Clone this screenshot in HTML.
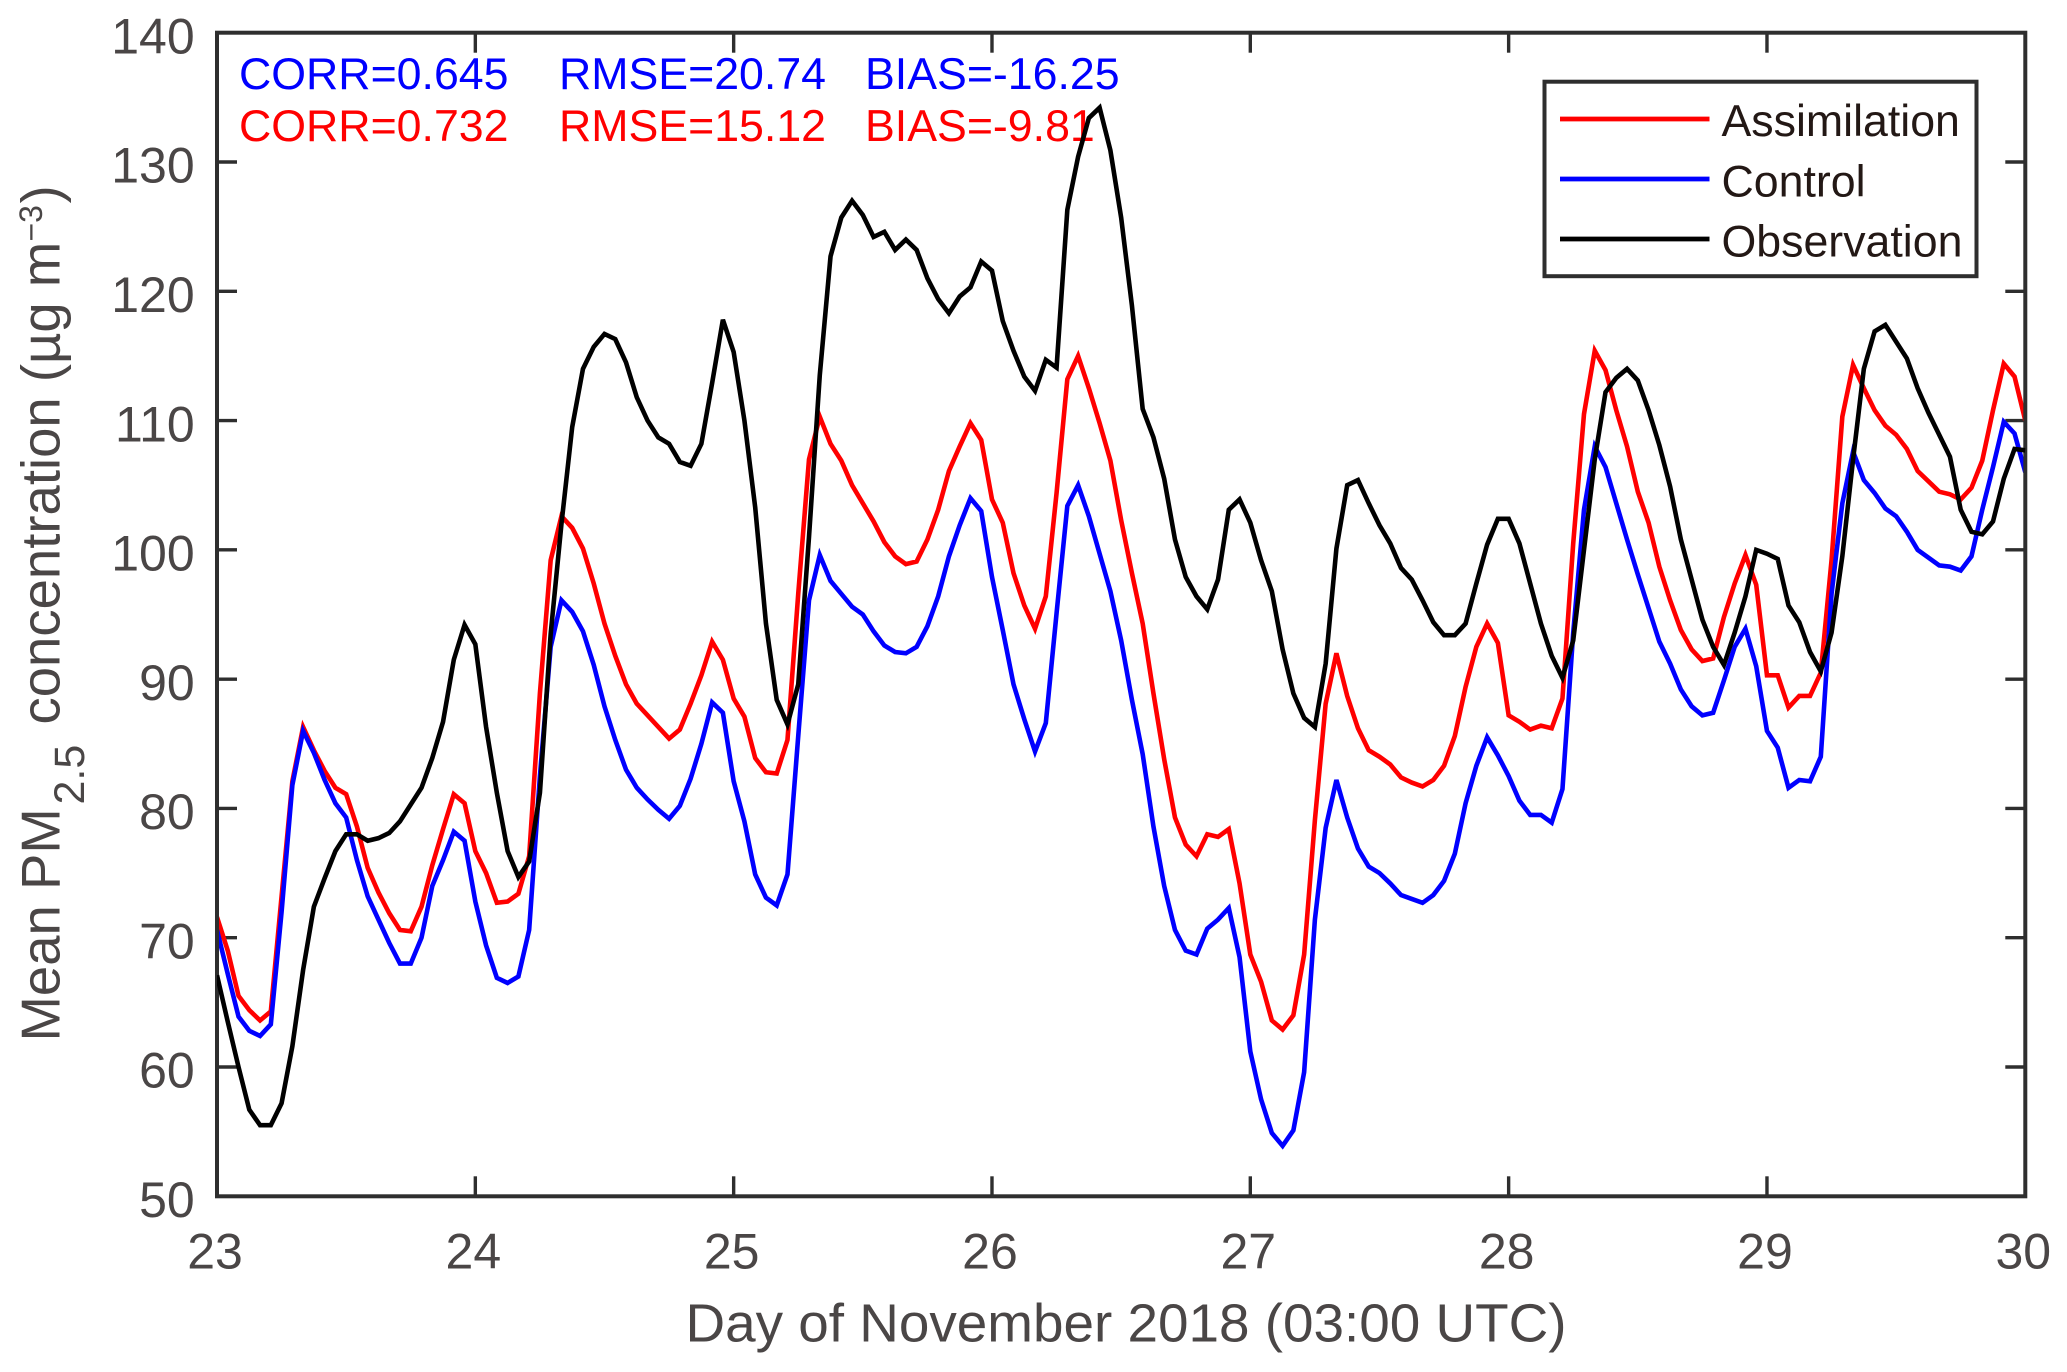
<!DOCTYPE html>
<html lang="en">
<head>
<meta charset="utf-8">
<title>Mean PM2.5 concentration chart</title>
<style>
html,body{margin:0;padding:0;background:#fff}
svg{display:block}
text{font-family:"Liberation Sans",Arial,sans-serif}
.tick-label{font-size:50px;fill:#4a4646}
.axis-title{font-size:54.5px;fill:#4a4646}
.stat{font-size:44.7px}
.legend-text{font-size:44.7px;fill:#231815}
</style>
</head>
<body>
<svg id="chart" width="2067" height="1372" viewBox="0 0 2067 1372" xmlns="http://www.w3.org/2000/svg">
  <rect x="0" y="0" width="2067" height="1372" fill="#fff"/>
  <defs><clipPath id="plot-clip"><rect x="217" y="32.7" width="1808.3" height="1163.6"/></clipPath></defs>
  <g id="ticks"></g>
  <g id="series" clip-path="url(#plot-clip)"></g>
  <rect x="217" y="32.7" width="1808.3" height="1163.6" fill="none" stroke="#2e2e2e" stroke-width="4"/>
  <g id="tick-labels"></g>

  <text class="axis-title" x="685.5" y="1341.5" style="font-size:53.5px" textLength="881" lengthAdjust="spacingAndGlyphs">Day of November 2018 (03:00 UTC)</text>

  <g transform="translate(59.5,1038.5) rotate(-90)">
    <text class="axis-title" x="-3" y="0">Mean PM</text>
    <text class="axis-title" x="234" y="24.5" style="font-size:43px">2.5</text>
    <text class="axis-title" x="314" y="0">concentration (µg m</text>
    <text class="axis-title" x="797" y="-17.5" style="font-size:32px">−3</text>
    <text class="axis-title" x="835" y="0">)</text>
  </g>

  <g fill="#0000ff">
    <text class="stat" x="239" y="89">CORR=0.645</text>
    <text class="stat" x="559" y="89">RMSE=20.74</text>
    <text class="stat" x="865" y="89">BIAS=-16.25</text>
  </g>
  <g fill="#ff0000">
    <text class="stat" x="239" y="141">CORR=0.732</text>
    <text class="stat" x="559" y="141">RMSE=15.12</text>
    <text class="stat" x="865" y="141">BIAS=-9.81</text>
  </g>

  <g id="observation-layer" clip-path="url(#plot-clip)"></g>

  <g>
    <rect x="1544.5" y="81.7" width="432" height="194.5" fill="#fff" stroke="#2e2e2e" stroke-width="4"/>
    <line x1="1560" x2="1709.5" y1="119" y2="119" stroke="#ff0000" stroke-width="4.8"/>
    <text class="legend-text" x="1721.5" y="136">Assimilation</text>
    <line x1="1560" x2="1709.5" y1="179" y2="179" stroke="#0000ff" stroke-width="4.8"/>
    <text class="legend-text" x="1721.5" y="196.5">Control</text>
    <line x1="1560" x2="1709.5" y1="239" y2="239" stroke="#000" stroke-width="4.8"/>
    <text class="legend-text" x="1721.5" y="256.5">Observation</text>
  </g>
</svg>
<script>
const dayTicks = [23, 24, 25, 26, 27, 28, 29, 30];
const valueTicks = [50, 60, 70, 80, 90, 100, 110, 120, 130, 140];
const assimilation = [
  71.6,69,65.5,64.4,63.6,64.3,73.2,82.1,86.3,84.5,82.9,81.6,81.1,78.6,75.4,73.5,71.9,70.6,70.5,72.4,75.6,78.4,81.1,80.4,
  76.7,75,72.7,72.8,73.4,76.3,88.9,99.2,102.6,101.7,100.1,97.4,94.3,91.8,89.6,88.1,87.2,86.3,85.4,86.1,88.1,90.3,92.9,91.5,
  88.5,87.1,83.9,82.8,82.7,85.3,96.6,107,110.3,108.2,106.9,105,103.6,102.2,100.6,99.5,98.9,99.1,100.8,103.1,106.1,108,109.8,108.5,
  103.9,102.1,98.2,95.7,93.9,96.4,104.4,113.2,115,112.5,109.8,106.9,102.3,98.2,94.3,88.9,83.8,79.3,77.2,76.3,78,77.8,78.4,74.2,
  68.7,66.6,63.6,62.9,64,68.7,79.1,88.1,92,88.7,86.2,84.5,84,83.4,82.4,82,81.7,82.2,83.3,85.6,89.4,92.5,94.3,92.8,
  87.2,86.7,86.1,86.4,86.2,88.5,100.5,110.5,115.4,113.9,110.8,108,104.5,102.1,98.7,96.1,93.8,92.3,91.4,91.6,94.8,97.4,99.6,97.3,
  90.3,90.3,87.8,88.7,88.7,90.5,99.2,110.3,114.3,112.5,110.8,109.6,108.9,107.8,106.1,105.3,104.5,104.3,103.9,104.8,106.9,110.8,114.4,113.4,
  110
];
const control = [
  70.6,67.2,63.9,62.8,62.4,63.3,72,81.8,86,84.3,82.2,80.4,79.3,76,73.2,71.4,69.6,68,68,70,74,76,78.2,77.5,
  72.8,69.4,66.9,66.5,67,70.6,82.5,92.5,96.1,95.2,93.7,91.1,87.9,85.3,83,81.6,80.7,79.9,79.2,80.2,82.3,85,88.2,87.4,
  82.1,79,74.9,73.1,72.5,74.9,85.6,96.1,99.6,97.6,96.6,95.6,95,93.7,92.6,92.1,92,92.5,94.1,96.4,99.5,101.9,104,103,
  97.9,93.8,89.6,86.9,84.4,86.6,95.1,103.4,105,102.6,99.7,96.8,93,88.4,84.2,78.6,74,70.6,69,68.7,70.7,71.4,72.3,68.5,
  61.2,57.5,54.9,53.9,55.1,59.6,71.4,78.5,82.2,79.3,76.9,75.5,75,74.2,73.3,73,72.7,73.3,74.4,76.5,80.4,83.3,85.5,84.1,
  82.5,80.6,79.5,79.5,78.9,81.5,93.6,103.1,108,106.4,103.6,100.8,98.1,95.5,92.9,91.2,89.2,87.9,87.2,87.4,89.9,92.5,93.9,91,
  86,84.7,81.6,82.2,82.1,84,96.6,103.6,107.6,105.4,104.4,103.2,102.6,101.4,100,99.4,98.8,98.7,98.4,99.5,103.1,106.4,109.9,109,
  106
];
const observation = [
  67.1,63.5,60,56.7,55.5,55.5,57.2,61.6,67.5,72.4,74.6,76.7,78,78,77.5,77.7,78.1,79,80.3,81.6,83.9,86.7,91.5,94.2,
  92.7,86.3,81.2,76.7,74.7,75.9,81.2,93.5,102,109.5,114,115.7,116.7,116.3,114.5,111.8,110,108.7,108.2,106.8,106.5,108.2,112.9,117.8,
  115.3,110,103.3,94.3,88.4,86.5,89.6,101,113.5,122.7,125.7,127,125.9,124.2,124.6,123.2,124,123.2,121,119.4,118.3,119.6,120.3,122.3,
  121.6,117.7,115.4,113.4,112.3,114.7,114.1,126.3,130.4,133.4,134.2,130.9,125.7,118.9,110.9,108.7,105.5,100.8,97.9,96.4,95.4,97.7,103.1,103.9,
  102.1,99.2,96.8,92.3,88.9,87,86.3,91.2,100.1,105,105.4,103.6,101.9,100.5,98.6,97.7,96.1,94.4,93.4,93.4,94.3,97.4,100.4,102.4,
  102.4,100.5,97.4,94.3,91.8,90.1,93,100,107,112.2,113.3,114,113.1,110.8,108.1,104.9,100.8,97.7,94.6,92.5,91.1,93.6,96.4,100,
  99.7,99.3,95.7,94.4,92.1,90.6,93.6,99.5,107,114,116.9,117.4,116.1,114.8,112.5,110.6,108.9,107.2,103.1,101.4,101.2,102.2,105.5,107.8,
  107.7
];

const SVGNS = "http://www.w3.org/2000/svg";
const plot = { left: 217, right: 2025.3, top: 32.7, bottom: 1196.3 };
const dayMin = 23, dayMax = 30, valueMin = 50, valueMax = 140, samplesPerDay = 24;
function xScale(day) { return plot.left + (day - dayMin) / (dayMax - dayMin) * (plot.right - plot.left); }
function yScale(value) { return plot.bottom - (value - valueMin) / (valueMax - valueMin) * (plot.bottom - plot.top); }

const ticksGroup = document.getElementById("ticks");
const labelsGroup = document.getElementById("tick-labels");
const seriesGroup = document.getElementById("series");

function addTick(x1, y1, x2, y2) {
  const t = document.createElementNS(SVGNS, "line");
  t.setAttribute("x1", x1);
  t.setAttribute("y1", y1);
  t.setAttribute("x2", x2);
  t.setAttribute("y2", y2);
  t.setAttribute("stroke", "#2e2e2e");
  t.setAttribute("stroke-width", "3.4");
  
  
  ticksGroup.appendChild(t);
}

dayTicks.forEach(function (day) {
  const x = xScale(day);
  addTick(x, plot.bottom, x, plot.bottom - 20);
  addTick(x, plot.top, x, plot.top + 20);
  const label = document.createElementNS(SVGNS, "text");
  label.setAttribute("class", "tick-label");
  label.setAttribute("x", x - 2);
  label.setAttribute("y", 1268.7);
  label.setAttribute("text-anchor", "middle");
  
  
  label.textContent = day;
  labelsGroup.appendChild(label);
});

valueTicks.forEach(function (value) {
  const y = yScale(value);
  addTick(plot.left, y, plot.left + 20, y);
  addTick(plot.right, y, plot.right - 20, y);
  const label = document.createElementNS(SVGNS, "text");
  label.setAttribute("class", "tick-label");
  label.setAttribute("x", 194.7);
  label.setAttribute("y", y + 20.7);
  label.setAttribute("text-anchor", "end");
  
  
  label.textContent = value;
  labelsGroup.appendChild(label);
});

function pointsFor(values) {
  return values.map(function (v, i) {
    return xScale(dayMin + i / samplesPerDay).toFixed(2) + "," + yScale(v).toFixed(2);
  }).join(" ");
}

const lineAssimilation = document.createElementNS(SVGNS, "polyline");
lineAssimilation.setAttribute("points", pointsFor(assimilation));
lineAssimilation.setAttribute("fill", "none");
lineAssimilation.setAttribute("stroke", "#ff0000");
lineAssimilation.setAttribute("stroke-width", "4.6");


seriesGroup.appendChild(lineAssimilation);

const lineControl = document.createElementNS(SVGNS, "polyline");
lineControl.setAttribute("points", pointsFor(control));
lineControl.setAttribute("fill", "none");
lineControl.setAttribute("stroke", "#0000ff");
lineControl.setAttribute("stroke-width", "4.6");


seriesGroup.appendChild(lineControl);

const lineObservation = document.createElementNS(SVGNS, "polyline");
lineObservation.setAttribute("points", pointsFor(observation));
lineObservation.setAttribute("fill", "none");
lineObservation.setAttribute("stroke", "#000000");
lineObservation.setAttribute("stroke-width", "4.6");


document.getElementById("observation-layer").appendChild(lineObservation);
</script>
</body>
</html>
